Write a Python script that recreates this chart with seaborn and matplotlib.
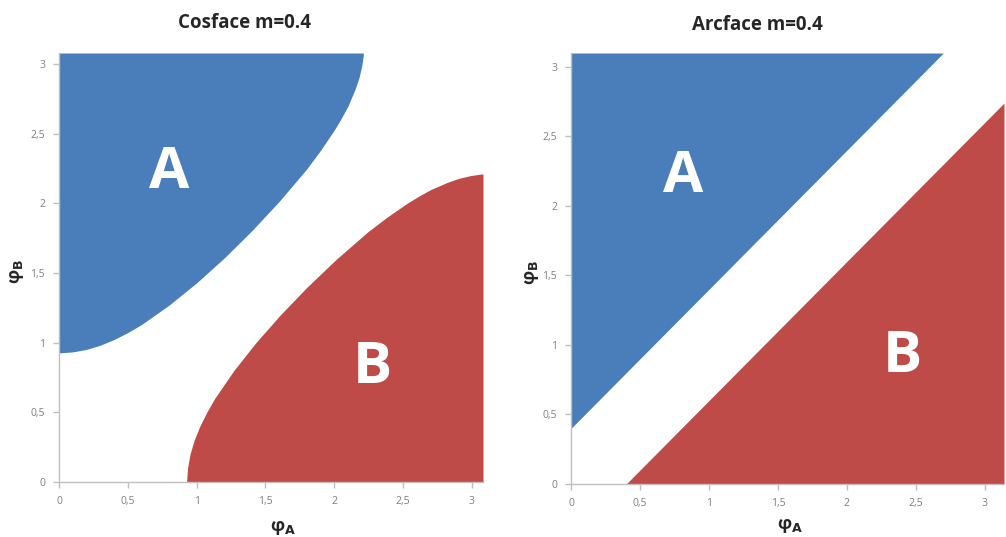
import matplotlib
matplotlib.use("Agg")
import matplotlib.pyplot as plt
import seaborn as sns

# ---- data ----
tick_vals = [0, 0.5, 1, 1.5, 2, 2.5, 3]
tick_labels = ["0", "0,5", "1", "1,5", "2", "2,5", "3"]

# Cosface m=0.4 : boundary of region A (phi_A -> lower phi_B)
cos_phiA = [0.0, 0.1, 0.2, 0.3, 0.4, 0.5, 0.6, 0.8, 1.0, 1.2, 1.4, 1.6, 1.8,
            1.9, 2.0, 2.05, 2.1, 2.15, 2.18, 2.2, 2.21, 2.212]
cos_phiB = [0.927, 0.934, 0.952, 0.982, 1.023, 1.073, 1.131, 1.270, 1.430,
            1.608, 1.803, 2.015, 2.248, 2.381, 2.527, 2.610, 2.701, 2.818,
            2.904, 2.990, 3.059, 3.08]
cos_max = 3.08

# Arcface m=0.4 : straight boundaries
arc_A_x = [0.0, 2.70]
arc_A_y = [0.40, 3.10]
arc_B_x = [0.40, 3.14]
arc_B_y = [0.0, 2.74]
arc_xmax = 3.14
arc_ymax = 3.10

blue = "#4A7EBB"
red = "#BE4B48"
grey = "#BFBFBF"
tick_col = "#7F7F7F"

sns.set_theme(style="white")
plt.rcParams["font.family"] = ["Open Sans", "DejaVu Sans"]

fig = plt.figure(figsize=(10.06, 5.37), dpi=100)
ax1 = fig.add_axes([0.0586, 0.1024, 0.4215, 0.7989])
ax2 = fig.add_axes([0.5676, 0.0987, 0.4304, 0.8026])


def style(ax, xmax, ymax, xlab_pos, ylab_pos):
    ax.set_xlim(0, xmax)
    ax.set_ylim(0, ymax)
    ax.set_xticks(tick_vals)
    ax.set_xticklabels(tick_labels)
    ax.set_yticks(tick_vals)
    ax.set_yticklabels(tick_labels)
    for s in ["top", "right"]:
        ax.spines[s].set_visible(False)
    for s in ["left", "bottom"]:
        ax.spines[s].set_color(grey)
        ax.spines[s].set_linewidth(1.0)
    ax.tick_params(axis="both", which="major", length=4, width=1, color=grey,
                   labelcolor=tick_col, labelsize=7.5, direction="out",
                   bottom=True, left=True, pad=6)
    ax.set_facecolor("white")
    ax.set_xlabel(r"φ$_{\mathbf{A}}$", fontsize=13, fontweight="bold",
                  color="#262626")
    ax.set_ylabel(r"φ$_{\mathbf{B}}$", fontsize=13, fontweight="bold",
                  color="#262626")
    ax.xaxis.set_label_coords(*xlab_pos)
    ax.yaxis.set_label_coords(*ylab_pos)


# Cosface panel
ax1.fill_between(cos_phiA + [0.0], cos_phiB + [cos_max], cos_max,
                 color=blue, linewidth=0)
ax1.fill_betweenx(cos_phiA, cos_phiB, cos_max, color=red, linewidth=0)
ax1.text(0.80, 2.22, "A", fontsize=42, fontweight="bold", color="white",
         ha="center", va="center")
ax1.text(2.28, 0.82, "B", fontsize=42, fontweight="bold", color="white",
         ha="center", va="center")
style(ax1, cos_max, cos_max, (0.528, -0.085), (-0.078, 0.49))

# Arcface panel
ax2.fill_between(arc_A_x, arc_A_y, arc_ymax, color=blue, linewidth=0)
ax2.fill_between(arc_B_x + [arc_xmax], arc_B_y + [arc_B_y[-1]], 0,
                 color=red, linewidth=0)
ax2.text(0.81, 2.21, "A", fontsize=42, fontweight="bold", color="white",
         ha="center", va="center")
ax2.text(2.40, 0.91, "B", fontsize=42, fontweight="bold", color="white",
         ha="center", va="center")
style(ax2, arc_xmax, arc_ymax, (0.506, -0.075), (-0.07, 0.49))

fig.text(245 / 1006, 1 - 23 / 537, "Cosface m=0.4", ha="center", va="center",
         fontsize=13.5, fontweight="bold", color="#262626")
fig.text(757 / 1006, 1 - 25 / 537, "Arcface m=0.4", ha="center", va="center",
         fontsize=13.5, fontweight="bold", color="#262626")

fig.savefig("out.png", dpi=100, facecolor="white")
